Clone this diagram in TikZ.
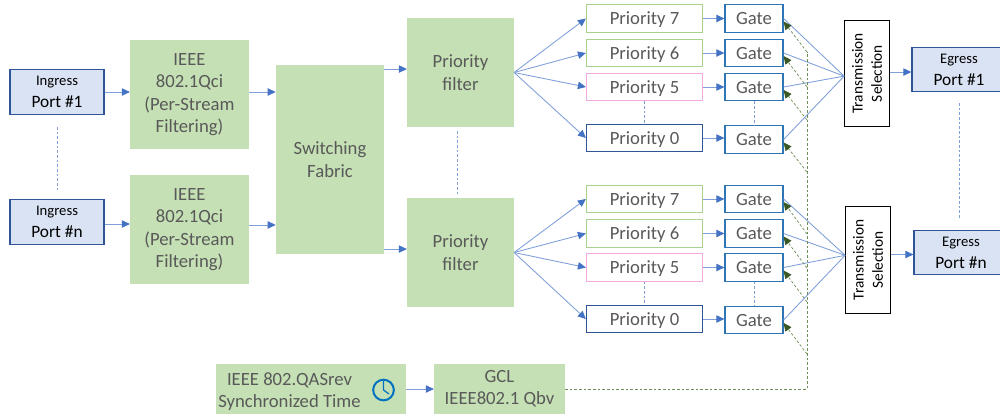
\documentclass[tikz,border=0pt]{standalone}
\usepackage{fontspec}
\setmainfont{Carlito}
\usetikzlibrary{arrows.meta}

\definecolor{boxgreen}{HTML}{C5E0B4}
\definecolor{boxtext}{HTML}{595959}
\definecolor{portfill}{HTML}{DAE3F3}
\definecolor{portline}{HTML}{2F5597}
\definecolor{flowblue}{HTML}{4472C4}
\definecolor{flowline}{HTML}{7F9FD9}
\definecolor{gateline}{HTML}{2E75B6}
\definecolor{ctrlgreen}{HTML}{6F8F5A}
\definecolor{ctrltip}{HTML}{385723}
\definecolor{prio76}{HTML}{A9D18E}
\definecolor{prio5}{HTML}{F2A9E4}
\definecolor{clockblue}{HTML}{0070C0}

\tikzset{
  x=.75pt, y=-.75pt,
  greenbox/.style={fill=boxgreen, text=boxtext, align=center, inner sep=0pt,
    font=\fontsize{14}{16.75}\selectfont, execute at begin node={\vspace*{3.6pt}}},
  portbox/.style={draw=portline, fill=portfill, line width=.9pt, align=center, inner sep=0pt,
    minimum width=70.5pt, minimum height=33.5pt},
  priobox/.style={draw=#1, fill=white, line width=.9pt, text=boxtext, inner sep=0pt,
    text height=11.5pt, text depth=2.5pt,
    minimum width=87pt, minimum height=20.5pt, font=\fontsize{14}{16.75}\selectfont},
  gatebox/.style={draw=gateline, fill=white, line width=.9pt, text=boxtext, inner sep=0pt,
    text height=11.5pt, text depth=2.5pt,
    minimum width=43.5pt, minimum height=20.5pt, font=\fontsize{14}{16.75}\selectfont},
  selbox/.style={draw=black, fill=white, line width=.8pt, rotate=90, align=center, inner sep=0pt,
    minimum width=80pt, minimum height=33.5pt, font=\fontsize{11.5}{14.5}\selectfont},
  flow/.style={draw=flowline, line width=.65pt, -{Triangle[length=6pt,width=5.5pt,color=flowblue]}},
  fan/.style={draw=flowline, line width=.65pt},
  ctrl/.style={draw=ctrlgreen, line width=.55pt, dash pattern=on 2pt off 1.5pt},
  ctrlto/.style={ctrl, -{Triangle[length=6pt,width=5.5pt,color=ctrltip]}},
  dots/.style={draw=flowline, line width=.55pt, dash pattern=on 2pt off 1.5pt},
}
\newcommand{\smallword}[1]{{\fontsize{11}{14}\selectfont #1}}
\newcommand{\portword}[1]{{\fontsize{13}{17}\selectfont #1}}

\begin{document}
\begin{tikzpicture}
\useasboundingbox (0,0) rectangle (1000,415);

%Ingress ports
\node[portbox] (ingress1) at (57,92) {\smallword{Ingress}\\[4.5pt]\portword{Port \#1}};
\node[portbox] (ingressn) at (57,222) {\smallword{Ingress}\\[4.5pt]\portword{Port \#n}};

%Stream filters and fabric
\node[greenbox, minimum width=89pt, minimum height=82pt] (qci1) at (189.5,94.5)
  {IEEE\\802.1Qci\\(Per-Stream\\Filtering)};
\node[greenbox, minimum width=89pt, minimum height=82pt] (qcin) at (189.5,229.5)
  {IEEE\\802.1Qci\\(Per-Stream\\Filtering)};
\node[greenbox, minimum width=81pt, minimum height=142pt] (fabric) at (330,159.5)
  {Switching\\Fabric};
\node[greenbox, minimum width=80pt, minimum height=82pt] (filter1) at (460.5,72.5)
  {Priority\\filter};
\node[greenbox, minimum width=80pt, minimum height=82pt] (filtern) at (460.5,252.5)
  {Priority\\filter};

%Upper queues
\node[priobox=prio76] (prio17) at (644.5,18.5) {Priority 7};
\node[priobox=prio76] (prio16) at (644.5,53) {Priority 6};
\node[priobox=prio5] (prio15) at (644.5,87) {Priority 5};
\node[priobox=portline] (prio10) at (644.5,138) {Priority 0};
\node[gatebox] (gate17) at (754,18.5) {Gate};
\node[gatebox] (gate16) at (754,53) {Gate};
\node[gatebox] (gate15) at (754,87) {Gate};
\node[gatebox] (gate10) at (754,139.5) {Gate};

%Lower queues
\node[priobox=prio76] (prion7) at (644.5,199) {Priority 7};
\node[priobox=prio76] (prion6) at (644.5,233.5) {Priority 6};
\node[priobox=prio5] (prion5) at (644.5,267.5) {Priority 5};
\node[priobox=portline] (prion0) at (644.5,319) {Priority 0};
\node[gatebox] (gaten7) at (754,199) {Gate};
\node[gatebox] (gaten6) at (754,233.5) {Gate};
\node[gatebox] (gaten5) at (754,267.5) {Gate};
\node[gatebox] (gaten0) at (754,320) {Gate};

%Selection and egress ports
\node[selbox] (tsel1) at (867,73.5) {Transmission\\Selection};
\node[selbox] (tseln) at (868,260) {Transmission\\Selection};
\node[portbox] (egress1) at (959,69.5) {\smallword{Egress}\\[4.5pt]\portword{Port \#1}};
\node[portbox] (egressn) at (961,252.5) {\smallword{Egress}\\[4.5pt]\portword{Port \#n}};

%Time and gate control
\node[fill=boxgreen, inner sep=0pt, minimum width=142.5pt, minimum height=37.5pt] (sync) at (311,389) {};
\node[text=boxtext, align=center, inner sep=0pt, font=\fontsize{14}{16.75}\selectfont]
  (synctext) at (289.5,391.5) {IEEE 802.QASrev\\Synchronized Time};
\node[draw=clockblue, line width=1.5pt, circle, minimum size=15.5pt, inner sep=0pt] (clock) at (383.5,390) {};
\draw[clockblue, line width=.9pt] (383.5,381) -- (clock.center) -- (389,394);
\node[greenbox, minimum width=98pt, minimum height=37.5pt] (gcl) at (499.5,389)
  {GCL\\IEEE802.1 Qbv};

%Junctions on the control line
\coordinate (busend) at (807,52);
\coordinate (bus16) at (807,87);
\coordinate (bus15) at (807,120);
\coordinate (bus10) at (807,172);
\coordinate (busn7) at (807,234);
\coordinate (busn6) at (807,268);
\coordinate (busn5) at (807,302);
\coordinate (busn0) at (807,354);
\coordinate (buscorner) at (807,389);

%Left part
\draw[flow] (ingress1.east) -- (ingress1.east -| qci1.west);
\draw[flow] ([yshift=-1.5pt]ingressn.east) -- ([yshift=-1.5pt]ingressn.east -| qcin.west);
\draw[flow] (qci1.east |- ingress1.east) -- (fabric.west |- ingress1.east);
\draw[flow] ([yshift=3.4pt]qcin.east) -- ([yshift=3.4pt]qcin.east -| fabric.west);
\draw[flow] ([yshift=2.6pt]filter1.west -| fabric.east) -- ([yshift=2.6pt]filter1.west);
\draw[flow] ([yshift=2.6pt]filtern.west -| fabric.east) -- ([yshift=2.6pt]filtern.west);
\draw[flow] (sync.east) -- (gcl.west);

%Filter to queue to gate, upper
\draw[flow] (filter1.east) -- (prio17.west);
\draw[flow] (filter1.east) -- (prio16.west);
\draw[flow] (filter1.east) -- (prio15.west);
\draw[flow] (filter1.east) -- (prio10.west);
\draw[flow] (prio17.east) -- (gate17.west);
\draw[flow] (prio16.east) -- (gate16.west);
\draw[flow] (prio15.east) -- (gate15.west);
\draw[flow] (prio10.east) -- (prio10.east -| gate10.west);

%Filter to queue to gate, lower
\draw[flow] (filtern.east) -- (prion7.west);
\draw[flow] (filtern.east) -- (prion6.west);
\draw[flow] (filtern.east) -- (prion5.west);
\draw[flow] (filtern.east) -- (prion0.west);
\draw[flow] (prion7.east) -- (gaten7.west);
\draw[flow] (prion6.east) -- (gaten6.west);
\draw[flow] (prion5.east) -- (gaten5.west);
\draw[flow] (prion0.east) -- (prion0.east -| gaten0.west);

%Gates to selection
\draw[fan] (gate17.east) -- ([yshift=-2pt]tsel1.north);
\draw[fan] (gate16.east) -- ([yshift=-2pt]tsel1.north);
\draw[fan] (gate15.east) -- ([yshift=-2pt]tsel1.north);
\draw[fan] (gate10.east) -- ([yshift=-2pt]tsel1.north);
\draw[fan] (gaten7.east) -- ([yshift=3.5pt]tseln.north);
\draw[fan] (gaten6.east) -- ([yshift=3.5pt]tseln.north);
\draw[fan] (gaten5.east) -- ([yshift=3.5pt]tseln.north);
\draw[fan] (gaten0.east) -- ([yshift=3.5pt]tseln.north);
\draw[flow] ([yshift=-1.9pt]tsel1.south |- egress1.west) -- ([yshift=-1.9pt]egress1.west);
\draw[flow] ([yshift=-1.5pt]tseln.south |- egressn.west) -- ([yshift=-1.5pt]egressn.west);

%Control line
\draw[ctrl] (gcl.east) -- (buscorner) -- (busend);
\draw[ctrlto] (busend) -- ([yshift=-2.25pt]gate17.east);
\draw[ctrlto] (bus16) -- ([yshift=-2.25pt]gate16.east);
\draw[ctrlto] (bus15) -- ([yshift=-2.25pt]gate15.east);
\draw[ctrlto] (bus10) -- ([yshift=-2.25pt]gate10.east);
\draw[ctrlto] (busn7) -- ([yshift=-2.25pt]gaten7.east);
\draw[ctrlto] (busn6) -- ([yshift=-2.25pt]gaten6.east);
\draw[ctrlto] (busn5) -- ([yshift=-2.25pt]gaten5.east);
\draw[ctrlto] (busn0) -- ([yshift=-2.25pt]gaten0.east);

%Omitted ports and queues
\coordinate (ingressgap) at (57,127);
\coordinate (ingressgapend) at (57,190);
\coordinate (filtergap) at (457.5,131);
\coordinate (filtergapend) at (457.5,195);
\coordinate (egressgap) at (959,103);
\coordinate (egressgapend) at (959,218);
\draw[dots] (ingressgap) -- (ingressgapend);
\draw[dots] (filtergap) -- (filtergapend);
\draw[dots] (egressgap) -- (egressgapend);
\draw[dots] (prio15.south) -- (prio10.north);
\draw[dots] (gate15.south) -- (gate10.north);
\draw[dots] (prion5.south) -- (prion0.north);
\draw[dots] (gaten5.south) -- (gaten0.north);
\end{tikzpicture}
\end{document}
